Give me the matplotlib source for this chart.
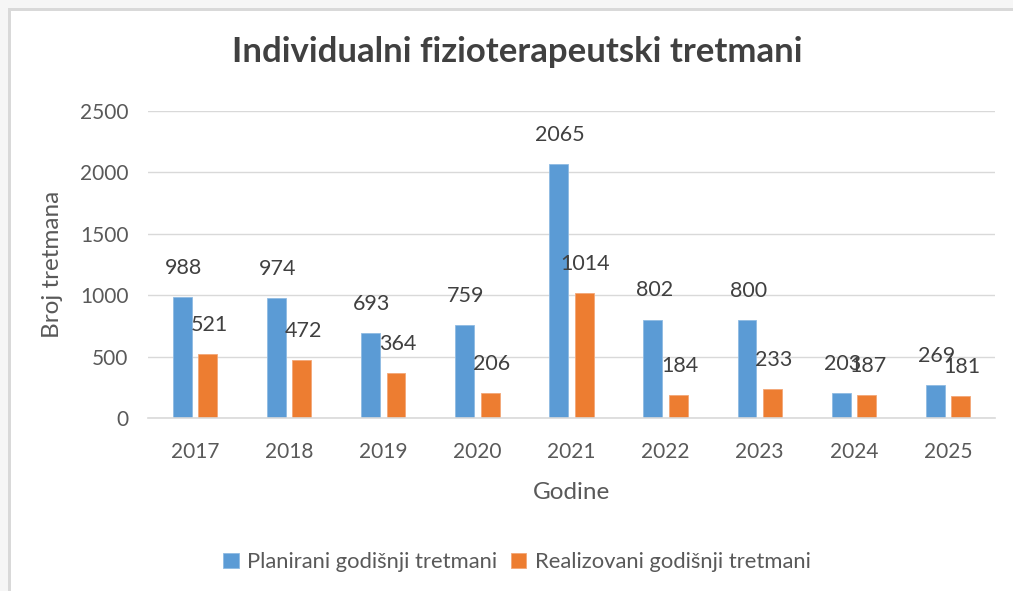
import numpy as np
import matplotlib.pyplot as plt
from matplotlib.patches import Rectangle

# data
years = ['2017', '2018', '2019', '2020', '2021', '2022', '2023', '2024', '2025']
planned = [988, 974, 693, 759, 2065, 802, 800, 203, 269]
realized = [521, 472, 364, 206, 1014, 184, 233, 187, 181]

blue = '#5B9BD5'
orange = '#ED7D31'
txt = '#404040'

plt.rcParams['font.family'] = ['Lato', 'DejaVu Sans']

fig = plt.figure(figsize=(10.13, 5.91), dpi=100)
fig.patch.set_facecolor('white')

# screenshot frame
fig.patches.append(Rectangle((0, 0), 1, 1, transform=fig.transFigure,
                             facecolor='#f6f6f6', edgecolor='none', zorder=-3))
fig.patches.append(Rectangle((8 / 1013, -0.1), 1.1, (591 - 8) / 591 + 0.1,
                             transform=fig.transFigure, facecolor='#d9d9d9',
                             edgecolor='none', zorder=-2))
fig.patches.append(Rectangle((11 / 1013, -0.1), 1.1, (591 - 11) / 591 + 0.1,
                             transform=fig.transFigure, facecolor='white',
                             edgecolor='none', zorder=-1))

ax = fig.add_axes([148 / 1013, (591 - 418) / 591, 847 / 1013, 307 / 591])
ax.set_facecolor('none')

x = np.arange(len(years))
w = 0.2
gap = 0.07
b1 = ax.bar(x - (w + gap) / 2, planned, w, color=blue, edgecolor='#8fbbe3',
            linewidth=0.6, zorder=2)
b2 = ax.bar(x + (w + gap) / 2, realized, w, color=orange, edgecolor='#f3a777',
            linewidth=0.6, zorder=2)

for bars, vals in ((b1, planned), (b2, realized)):
    for r, v in zip(bars, vals):
        ax.annotate(str(v), (r.get_x() + r.get_width() / 2, v),
                    xytext=(1, 21), textcoords='offset points',
                    ha='center', va='center', fontsize=15.5, color=txt, zorder=3)

ax.set_xlim(-0.5, len(years) - 0.5)
ax.set_ylim(0, 2500)
ax.set_yticks(range(0, 2501, 500))
ax.set_xticks(x)
ax.set_xticklabels(years)
ax.yaxis.grid(True, color='#d9d9d9', linewidth=1, zorder=0)
ax.set_axisbelow(True)
for s in ('top', 'right', 'left'):
    ax.spines[s].set_visible(False)
ax.spines['bottom'].set_color('#d9d9d9')
ax.spines['bottom'].set_linewidth(1.2)
ax.tick_params(axis='both', length=0, labelsize=15, colors='#595959')
ax.tick_params(axis='x', pad=17)
ax.tick_params(axis='y', pad=14)

ax.set_ylabel('Broj tretmana', fontsize=17.5, color='#595959', labelpad=12)
ax.set_xlabel('Godine', fontsize=17.5, color='#595959', labelpad=15)

fig.text(517 / 1013, 1 - 52 / 591, 'Individualni fizioterapeutski tretmani',
         ha='center', va='center', fontsize=25, fontweight='bold', color=txt)

fig.legend([b1, b2], ['Planirani godišnji tretmani', 'Realizovani godišnji tretmani'],
           loc='center', bbox_to_anchor=(517 / 1013, 1 - 562 / 591), ncol=2,
           frameon=False, fontsize=15.8, handlelength=0.7, handleheight=0.7,
           handletextpad=0.4, columnspacing=0.6, labelcolor='#595959')

fig.savefig('out.png', dpi=100)
